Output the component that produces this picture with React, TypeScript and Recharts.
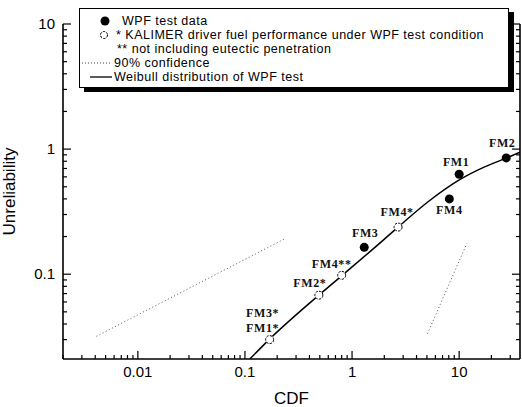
import React from 'react';
import { ScatterChart, Scatter, XAxis, YAxis, Legend } from 'recharts';

// ---- axis ticks ----
const xMajorTicks = [0.01, 0.1, 1, 10];
const xMajorLabels = ['0.01', '0.1', '1', '10'];
const xAllTicks = [
  0.002, 0.003, 0.004, 0.005, 0.006, 0.007, 0.008, 0.009,
  0.01, 0.02, 0.03, 0.04, 0.05, 0.06, 0.07, 0.08, 0.09,
  0.1, 0.2, 0.3, 0.4, 0.5, 0.6, 0.7, 0.8, 0.9,
  1, 2, 3, 4, 5, 6, 7, 8, 9,
  10, 20, 30,
];
const yMajorTicks = [0.1, 1, 10];
const yMajorLabels = ['0.1', '1', '10'];
const yAllTicks = [
  0.03, 0.04, 0.05, 0.06, 0.07, 0.08, 0.09,
  0.1, 0.2, 0.3, 0.4, 0.5, 0.6, 0.7, 0.8, 0.9,
  1, 2, 3, 4, 5, 6, 7, 8, 9,
  10,
];
const xDomain = [0.002, 37];
const yDomain = [0.021, 10];

// ---- WPF test data (filled) ----
const wpfNames = ['FM3', 'FM4', 'FM1', 'FM2'];
const wpfCdf = [1.3, 8.1, 10.0, 27.5];
const wpfUnrel = [0.164, 0.40, 0.63, 0.85];

// ---- KALIMER driver fuel performance (open) ----
const kalLabels = [['FM3*', 'FM1*'], ['FM2*'], ['FM4**'], ['FM4*']];
const kalCdf = [0.17, 0.49, 0.80, 2.69];
const kalUnrel = [0.030, 0.068, 0.098, 0.238];

// ---- Weibull distribution line ----
const weibullCdf = [0.111, 0.168, 0.49, 0.81, 1.91, 2.69, 5.2, 10.3, 17.1, 27.5, 37];
const weibullUnrel = [0.021, 0.030, 0.068, 0.098, 0.184, 0.238, 0.383, 0.575, 0.718, 0.847, 0.946];

// ---- 90% confidence lines ----
const confLowCdf = [0.0041, 0.241];
const confLowUnrel = [0.0319, 0.194];
const confHighCdf = [5.06, 11.8];
const confHighUnrel = [0.0335, 0.176];

// label offsets (dx, dy of label centre relative to marker)
const labelOffsets: Record<string, [number, number]> = {
  FM2: [-4, -15],
  FM1: [-3, -12],
  FM4: [0, 11],
  FM3: [1, -14],
  'FM4*': [-1, -15],
  'FM4**': [-10, -11],
  'FM2*': [-9, -12],
  'FM1*': [-7, -12],
  'FM3*': [-7, -27],
};

const wpfData = wpfNames.map((n, i) => ({ x: wpfCdf[i], y: wpfUnrel[i], labels: [n] }));
const kalData = kalLabels.map((l, i) => ({ x: kalCdf[i], y: kalUnrel[i], labels: l }));
const weibullData = weibullCdf.map((x, i) => ({ x, y: weibullUnrel[i] }));
const confLowData = confLowCdf.map((x, i) => ({ x, y: confLowUnrel[i] }));
const confHighData = confHighCdf.map((x, i) => ({ x, y: confHighUnrel[i] }));

const SANS = '"Liberation Sans", Arial, Helvetica, sans-serif';
const SERIF = '"Liberation Serif", "Times New Roman", serif';

const PointLabels = ({ cx, cy, labels }: any) => (
  <>
    {labels.map((l: string) => {
      const off = labelOffsets[l] || [0, -12];
      return (
        <text
          key={l}
          x={cx + off[0]}
          y={cy + off[1] + 4}
          textAnchor="middle"
          fontFamily={SERIF}
          fontWeight="bold"
          fontSize={12}
          letterSpacing={0.6}
          fill="#111"
        >
          {l}
        </text>
      );
    })}
  </>
);

const FilledShape = (props: any) => {
  const { cx, cy, payload } = props;
  return (
    <g>
      <circle cx={cx} cy={cy} r={4.5} fill="#000" />
      <PointLabels cx={cx} cy={cy} labels={payload.labels} />
    </g>
  );
};

const OpenShape = (props: any) => {
  const { cx, cy, payload } = props;
  return (
    <g>
      <circle cx={cx} cy={cy} r={4} fill="#fff" stroke="#000" strokeWidth={1} strokeDasharray="2.5 1.2" />
      <PointLabels cx={cx} cy={cy} labels={payload.labels} />
    </g>
  );
};

const NoShape = () => <g />;

const XTick = (props: any) => {
  const { x, y, payload } = props;
  const idx = xMajorTicks.indexOf(payload.value);
  const major = idx >= 0;
  return (
    <g>
      <line x1={x} y1={y} x2={x} y2={y - (major ? 8 : 4)} stroke="#000" strokeWidth={1.2} />
      {major && (
        <text x={x} y={y + 18} textAnchor="middle" fontFamily={SANS} fontSize={15} fill="#000">
          {xMajorLabels[idx]}
        </text>
      )}
    </g>
  );
};

const YTick = (props: any) => {
  const { x, y, payload } = props;
  const idx = yMajorTicks.indexOf(payload.value);
  const major = idx >= 0;
  return (
    <g>
      <line x1={x} y1={y} x2={x + (major ? 8 : 4)} y2={y} stroke="#000" strokeWidth={1.2} />
      {major && (
        <text x={x - 8} y={y + 5} textAnchor="end" fontFamily={SANS} fontSize={15} fill="#000">
          {yMajorLabels[idx]}
        </text>
      )}
    </g>
  );
};

const YTickRight = (props: any) => {
  const { x, y, payload } = props;
  const major = yMajorTicks.indexOf(payload.value) >= 0;
  return <line x1={x} y1={y} x2={x - (major ? 8 : 4)} y2={y} stroke="#000" strokeWidth={1.2} />;
};

const LegendBox = () => {
  const rowH = 14;
  const rows = [12, 26, 40, 54, 68];
  const textStyle = (left: number, center: number): React.CSSProperties => ({
    position: 'absolute',
    left,
    top: center - rowH / 2,
    height: rowH,
    lineHeight: `${rowH}px`,
    fontSize: 12.5,
    letterSpacing: 0.5,
    whiteSpace: 'nowrap',
  });
  return (
    <div
      style={{
        position: 'relative',
        width: 430,
        height: 80,
        boxSizing: 'border-box',
        border: '1px solid #000',
        background: '#fff',
        boxShadow: '5px 4px 0 #000',
        fontFamily: SANS,
        color: '#000',
      }}
    >
      <svg width={60} height={78} style={{ position: 'absolute', left: 0, top: 0 }}>
        <circle cx={25} cy={rows[0]} r={4.5} fill="#000" />
        <circle cx={24} cy={rows[1]} r={3.5} fill="#fff" stroke="#000" strokeWidth={1} strokeDasharray="2.5 1.2" />
        <line x1={2} y1={rows[3]} x2={32} y2={rows[3]} stroke="#444" strokeWidth={1} strokeDasharray="1 2" />
        <line x1={10} y1={rows[4]} x2={32} y2={rows[4]} stroke="#000" strokeWidth={1.3} />
      </svg>
      <div style={textStyle(42, rows[0])}>WPF test data</div>
      <div style={textStyle(36, rows[1])}>* KALIMER driver fuel performance under WPF test condition</div>
      <div style={textStyle(37, rows[2])}>** not including eutectic penetration</div>
      <div style={textStyle(34, rows[3])}>90% confidence</div>
      <div style={textStyle(34, rows[4])}>Weibull distribution of WPF test</div>
    </div>
  );
};

export default function App() {
  return (
    <div style={{ position: 'absolute', left: 0, top: 0, width: 522, height: 407, background: '#fff' }}>
      <ScatterChart width={522} height={407} margin={{ top: 24, right: 0, bottom: 0, left: 0 }}>
        <XAxis
          xAxisId="b"
          type="number"
          dataKey="x"
          scale="log"
          domain={xDomain}
          allowDataOverflow
          ticks={xAllTicks}
          interval={0}
          tickSize={0}
          tickMargin={0}
          height={48}
          axisLine={{ stroke: '#000', strokeWidth: 1.6 }}
          tickLine={false}
          tick={<XTick />}
          label={{ value: 'CDF', position: 'insideBottom', offset: 3, fontFamily: SANS, fontSize: 17, fill: '#000' }}
        />
        <XAxis
          xAxisId="t"
          orientation="top"
          type="number"
          dataKey="x"
          scale="log"
          domain={xDomain}
          allowDataOverflow
          height={0}
          tick={false}
          tickLine={false}
          axisLine={{ stroke: '#000', strokeWidth: 1.6 }}
        />
        <YAxis
          yAxisId="l"
          type="number"
          dataKey="y"
          scale="log"
          domain={yDomain}
          allowDataOverflow
          ticks={yAllTicks}
          interval={0}
          tickSize={0}
          tickMargin={0}
          width={63}
          axisLine={{ stroke: '#000', strokeWidth: 1.6 }}
          tickLine={false}
          tick={<YTick />}
          label={{ value: 'Unreliability', angle: -90, position: 'insideLeft', offset: 9, fontFamily: SANS, fontSize: 17, fill: '#000', style: { textAnchor: 'middle' } }}
        />
        <YAxis
          yAxisId="r"
          orientation="right"
          type="number"
          dataKey="y"
          scale="log"
          domain={yDomain}
          allowDataOverflow
          ticks={yAllTicks}
          interval={0}
          tickSize={0}
          tickMargin={0}
          width={2}
          axisLine={{ stroke: '#000', strokeWidth: 1.6 }}
          tickLine={false}
          tick={<YTickRight />}
        />
        <Scatter
          xAxisId="b"
          yAxisId="l"
          data={confLowData}
          line={{ stroke: '#555', strokeWidth: 1, strokeDasharray: '1 2.5' }}
          shape={<NoShape />}
          isAnimationActive={false}
          legendType="none"
        />
        <Scatter
          xAxisId="b"
          yAxisId="l"
          data={confHighData}
          line={{ stroke: '#555', strokeWidth: 1, strokeDasharray: '1 2.5' }}
          shape={<NoShape />}
          isAnimationActive={false}
          legendType="none"
        />
        <Scatter
          xAxisId="b"
          yAxisId="l"
          data={weibullData}
          line={{ stroke: '#000', strokeWidth: 1.5 }}
          lineJointType="monotoneX"
          shape={<NoShape />}
          isAnimationActive={false}
          legendType="none"
        />
        <Scatter xAxisId="b" yAxisId="l" data={kalData} shape={<OpenShape />} isAnimationActive={false} />
        <Scatter xAxisId="b" yAxisId="l" data={wpfData} shape={<FilledShape />} isAnimationActive={false} />
        <Legend
          verticalAlign="middle"
          align="center"
          layout="horizontal"
          wrapperStyle={{ position: 'absolute', left: 79, top: 8, width: 430, height: 80, margin: 0, padding: 0 }}
          content={() => <LegendBox />}
        />
      </ScatterChart>
    </div>
  );
}
